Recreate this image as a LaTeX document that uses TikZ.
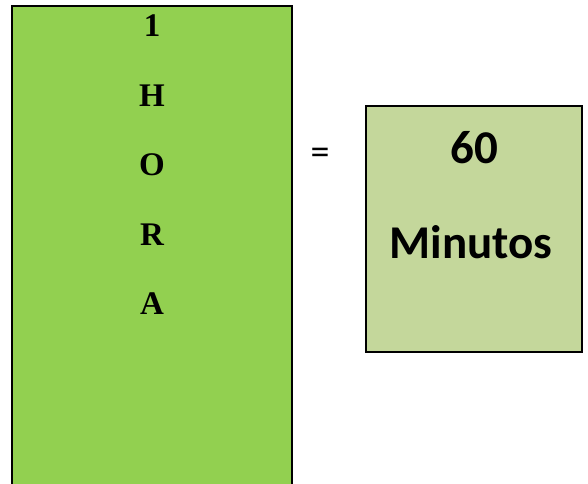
\documentclass[tikz,border=0pt]{standalone}
\usepackage{fontspec}
\setmainfont{Liberation Serif}
\newfontfamily\calibri{Carlito}
\usetikzlibrary{positioning}
\definecolor{horagreen}{HTML}{92D050}
\definecolor{minolive}{HTML}{C4D79B}

\begin{document}
\begin{tikzpicture}[x=1pt,y=-1pt,node distance=69.5pt,
        letra/.style={font=\fontsize{33}{33}\selectfont\bfseries,inner sep=0pt},
        caja/.style={draw,inner sep=0pt}]

  \clip (0,0) rectangle (588,483);

  \node[caja,line width=2pt,fill=horagreen,minimum width=280pt,
        minimum height=510pt,anchor=north] (hora) at (152,5) {};
  \node[letra] (1) at (152,26) {1};
  \node[letra] (H) [below of=1] {H};
  \node[letra] (O) [below of=H] {O};
  \node[letra] (R) [below of=O] {R};
  \node[letra] (A) [below of=R] {A};

  \node[font=\calibri\fontsize{38}{38}\selectfont,inner sep=0pt] (igual) at (320,156) {=};

  \node[caja,line width=1.5pt,fill=minolive,minimum width=216pt,
        minimum height=246pt] (min) at (474,229) {};
  \node[font=\calibri\fontsize{47}{47}\selectfont\bfseries,inner sep=0pt] (n60) at (474,148) {60};
  \node[font=\calibri\fontsize{47}{47}\selectfont\bfseries,inner sep=0pt] (minutos) at (471,242) {Minutos};

\end{tikzpicture}
\end{document}
